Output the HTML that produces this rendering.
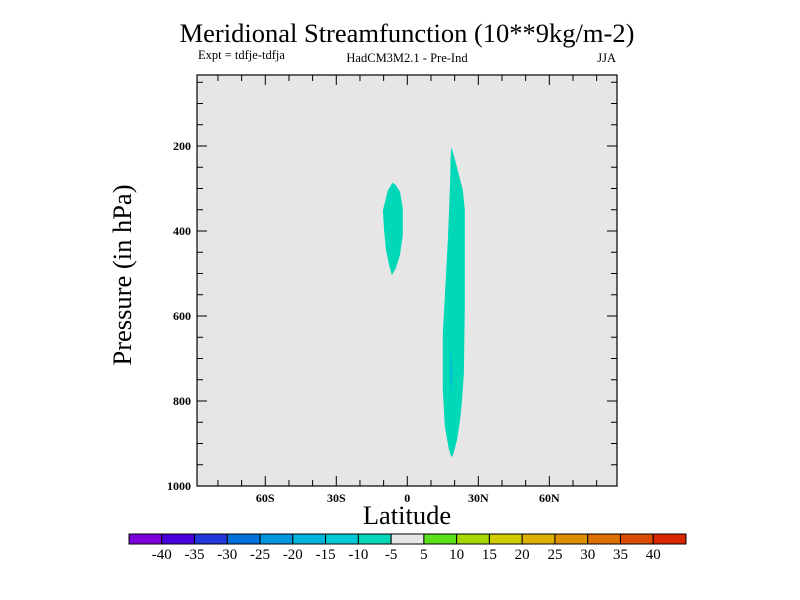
<!DOCTYPE html>
<html><head><meta charset="utf-8"><style>
html,body{margin:0;padding:0;background:#fff;}
svg{display:block;font-family:"Liberation Serif",serif;}
</style></head><body>
<svg id="chart" width="800" height="600" viewBox="0 0 800 600">
<text x="407" y="42" text-anchor="middle" font-size="26.5">Meridional Streamfunction (10**9kg/m-2)</text>
<text x="198" y="59" font-size="12.5">Expt = tdfje-tdfja</text>
<text x="407" y="62" text-anchor="middle" font-size="12.5">HadCM3M2.1 - Pre-Ind</text>
<text x="616" y="62" text-anchor="end" font-size="12.5">JJA</text>
<rect x="197" y="75" width="420" height="411" fill="#e6e6e6"/>
<g id="shapes"></g>
<rect x="197" y="75" width="420" height="411" fill="none" stroke="#000" stroke-width="1.2"/>
<g id="ticks" stroke="#000" stroke-width="1"></g>
<g id="labels" font-size="12" font-weight="bold"></g>
<text transform="translate(131,275) rotate(-90)" text-anchor="middle" font-size="26.5">Pressure (in hPa)</text>
<text x="407" y="524" text-anchor="middle" font-size="26.5">Latitude</text>
<g id="cbar"></g>
</svg>
<script>
const latTicks=[-60,-30,0,30,60];
const latTickLabels=["60S","30S","0","30N","60N"];
const presTicks=[200,400,600,800,1000];
const presTickLabels=["200","400","600","800","1000"];
const contourLevels=["-40","-35","-30","-25","-20","-15","-10","-5","5","10","15","20","25","30","35","40"];
const contourColors=["#7c00dc","#4800dc","#2038dc","#0070dc","#0096dc","#00b4dc","#00cad8","#00d8b8","#e6e6e6","#5ce01c","#a4d800","#d0cc00","#dcb000","#dc9000","#dc7000","#dc4c00","#dc2800"];
const shapeColors=["#00d8b8","#00d8b8","#00c0d0"];
const shapeLats=[
 [-6.2,-8.2,-10.3,-9.8,-9,-7.7,-6.5,-4.8,-3.1,-1.9,-1.9,-3.1,-4.8],
 [18.6,20.2,21.8,23.5,24.3,24.3,23.9,23.1,22.3,21,19.3,18.6,17.6,15.9,15,15,15.5,16.3,17.2,18.1,18.3],
 [18.6,19.2,18.8,17.9,18.0]];
const shapePres=[
 [286,304,351,398,445,480,504,487,456,409,346,308,292],
 [202,233,268,304,351,574,734,798,845,892,927,932,915,861,774,640,591,508,414,287,233],
 [680,734,790,739,700]];
const NS="http://www.w3.org/2000/svg";
const X=lat=>407.3+(lat)*2.367;
const Y=p=>486-(1000-p)*0.425;
function mk(t,a,parent){const e=document.createElementNS(NS,t);for(const k in a)e.setAttribute(k,a[k]);parent.appendChild(e);return e;}
const sh=document.getElementById('shapes');
shapeLats.forEach((lats,i)=>{
 const pts=lats.map((l,j)=>X(l).toFixed(1)+','+Y(shapePres[i][j]).toFixed(1)).join(' ');
 const e=mk('polygon',{points:pts,fill:shapeColors[i]},sh);
 
 
});
const tk=document.getElementById('ticks');
for(let l=-80;l<=80;l+=10){
 const len=(l%30===0)?10:6;
 mk('line',{x1:X(l),x2:X(l),y1:486,y2:486-len},tk);
 mk('line',{x1:X(l),x2:X(l),y1:75,y2:75+len},tk);
}
for(let p=50;p<1000;p+=50){
 if(Y(p)<76)continue;
 const len=(p%200===0)?10:6;
 mk('line',{x1:197,x2:197+len,y1:Y(p),y2:Y(p)},tk);
 mk('line',{x1:617,x2:617-len,y1:Y(p),y2:Y(p)},tk);
}
const lb=document.getElementById('labels');
latTicks.forEach((l,i)=>{
 const t=mk('text',{x:X(l),y:502,'text-anchor':'middle'},lb);t.textContent=latTickLabels[i];
 
 
});
presTicks.forEach((p,i)=>{
 const t=mk('text',{x:191,y:Y(p)+4,'text-anchor':'end'},lb);t.textContent=presTickLabels[i];
 
 
});
const cb=document.getElementById('cbar');
const cx0=129,cx1=686,cw=(cx1-cx0)/contourColors.length;
contourColors.forEach((c,i)=>{
 const r=mk('rect',{x:cx0+i*cw,y:534,width:cw,height:10,fill:c,stroke:'#000','stroke-width':1},cb);
 
 
});
contourLevels.forEach((s,i)=>{
 const t=mk('text',{x:cx0+(i+1)*cw,y:559,'text-anchor':'middle','font-size':15},cb);t.textContent=s;
 
 
});
</script>
</body></html>
